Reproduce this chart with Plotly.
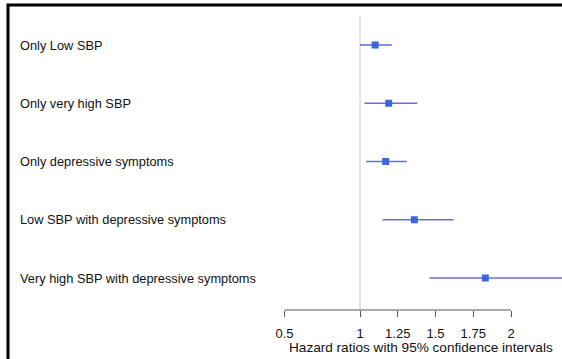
import plotly.graph_objects as go

labels = [
    "Only Low SBP",
    "Only very high SBP",
    "Only depressive symptoms",
    "Low SBP with depressive symptoms",
    "Very high SBP with depressive symptoms",
]
hr = [1.10, 1.19, 1.17, 1.36, 1.83]
ci_low = [1.00, 1.03, 1.04, 1.15, 1.46]
ci_high = [1.21, 1.38, 1.31, 1.62, 2.40]
tick_vals = [0.5, 1, 1.25, 1.5, 1.75, 2]
tick_text = ["0.5", "1", "1.25", "1.5", "1.75", "2"]
x_title = "Hazard ratios with 95% confidence intervals"

W, H = 562, 359
PLOT_BOTTOM = 310  # pixel y of axis line
rows = list(range(1, len(labels) + 1))

# pixel mapping: value 1 at x=360, 151 px per unit
px_per_unit = 151.0
x_lo = 1 - 360 / px_per_unit
x_hi = 1 + (W - 360) / px_per_unit
# rows: row1 at y=45 px, spacing 58.25 px
sp = 58.25
y_top = 1 - 45 / sp
y_bot = 1 + (PLOT_BOTTOM - 45) / sp

FONT = "Liberation Sans, Arial"

fig = go.Figure()
for i in range(len(labels)):
    fig.add_trace(go.Scatter(
        x=[ci_low[i], ci_high[i]], y=[rows[i], rows[i]], mode="lines",
        line=dict(color="#6470d6", width=1.6), hoverinfo="skip", showlegend=False,
    ))
fig.add_trace(go.Scatter(
    x=hr, y=rows, mode="markers",
    marker=dict(symbol="square", size=7, color="#3a66e0"),
    showlegend=False, cliponaxis=True,
))

for i, lab in enumerate(labels):
    fig.add_annotation(
        x=18 / W, xref="paper", y=rows[i], yref="y", text=lab, showarrow=False,
        xanchor="left", yanchor="middle",
        font=dict(family=FONT, size=12.8, color="#111111"),
    )

# reference line at HR=1
fig.add_shape(type="line", xref="x", yref="paper", x0=1, x1=1,
              y0=0, y1=1 - 16 / PLOT_BOTTOM,
              line=dict(color="#dadada", width=1.5), layer="below")
# axis line from first to last tick
fig.add_shape(type="line", xref="x", yref="paper", x0=tick_vals[0], x1=tick_vals[-1],
              y0=0, y1=0, line=dict(color="#555555", width=1.2))
# frame (only top and left edges fall inside the view)
fig.add_shape(type="rect", xref="paper", yref="paper",
              x0=8 / W, x1=1.1,
              y0=-0.4, y1=1 - 5 / PLOT_BOTTOM,
              line=dict(color="#000000", width=3), fillcolor="rgba(0,0,0,0)",
              layer="above")

fig.add_annotation(
    x=421 / W, xref="paper", y=-(347 - PLOT_BOTTOM) / PLOT_BOTTOM, yref="paper",
    text=x_title, showarrow=False, xanchor="center", yanchor="middle",
    font=dict(family=FONT, size=13.6, color="#111111"),
)

fig.update_layout(
    width=W, height=H,
    margin=dict(l=0, r=0, t=0, b=H - PLOT_BOTTOM, pad=0),
    paper_bgcolor="white", plot_bgcolor="white",
    xaxis=dict(range=[x_lo, x_hi], tickvals=tick_vals, ticktext=tick_text,
               ticks="outside", ticklen=6, tickcolor="#555555", tickwidth=1.2,
               showgrid=False, zeroline=False, showline=False,
               ticklabelstandoff=5,
               tickfont=dict(family=FONT, size=13, color="#111111")),
    yaxis=dict(range=[y_bot, y_top], showticklabels=False, showgrid=False,
               zeroline=False, showline=False, ticks=""),
)

fig.write_html(
    "out.html",
    config={"displayModeBar": False},
    post_script="document.body.style.margin='0';document.body.style.overflow='hidden';"
                "document.documentElement.style.overflow='hidden';",
)
